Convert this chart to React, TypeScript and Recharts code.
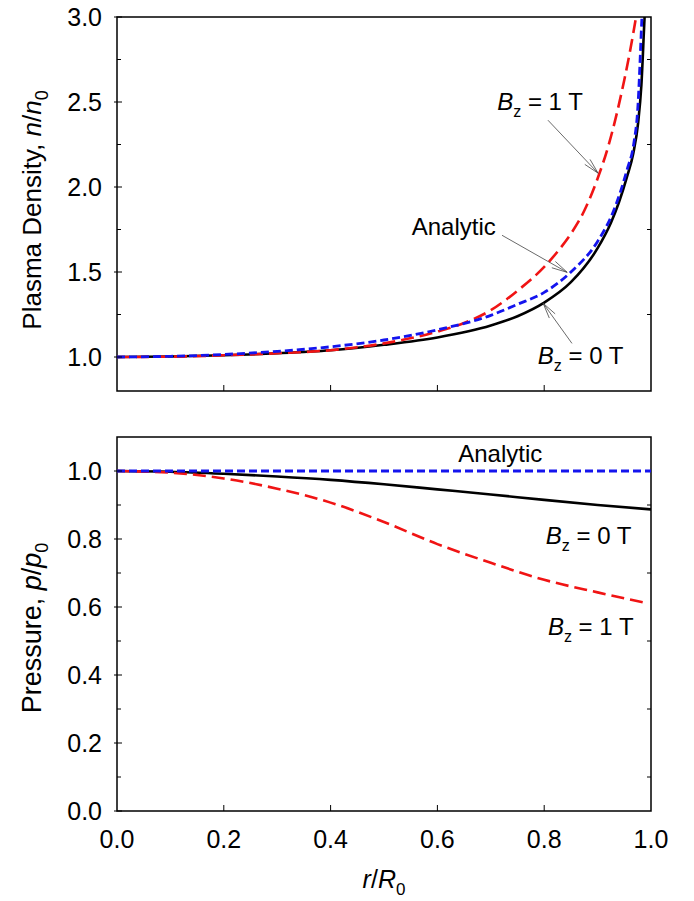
import React from 'react';
import {
  LineChart,
  Line,
  XAxis,
  YAxis,
  ReferenceArea,
  ReferenceLine,
  ReferenceDot,
} from 'recharts';

const FONT = '"Liberation Sans", Arial, Helvetica, sans-serif';
const RED = '#f01414';
const BLUE = '#1414ee';
const BLACK = '#000000';

// ---------- Top panel: plasma density n/n0 vs r/R0 ----------
const densBz0R = [0, 0.1, 0.2, 0.3, 0.4, 0.5, 0.6, 0.7, 0.75, 0.8, 0.85, 0.9, 0.925, 0.94, 0.955, 0.967, 0.976, 0.982, 0.988, 0.995];
const densBz0N = [1.0, 1.003, 1.01, 1.022, 1.04, 1.072, 1.115, 1.185, 1.24, 1.32, 1.44, 1.64, 1.79, 1.91, 2.06, 2.2, 2.38, 2.6, 3.0, 3.4];

const densAnaR = [0, 0.1, 0.2, 0.3, 0.4, 0.5, 0.6, 0.7, 0.75, 0.8, 0.85, 0.9, 0.93, 0.955, 0.968, 0.975, 0.983, 0.99];
const densAnaN = [1.0, 1.004, 1.015, 1.033, 1.06, 1.1, 1.16, 1.245, 1.31, 1.38, 1.5, 1.68, 1.86, 2.1, 2.26, 2.45, 3.0, 3.5];

const densBz1R = [0, 0.1, 0.2, 0.3, 0.4, 0.5, 0.6, 0.65, 0.7, 0.75, 0.8, 0.825, 0.85, 0.875, 0.9, 0.92, 0.935, 0.95, 0.962, 0.972, 0.985];
const densBz1N = [1.0, 1.002, 1.01, 1.022, 1.04, 1.08, 1.15, 1.2, 1.275, 1.39, 1.53, 1.62, 1.725, 1.86, 2.05, 2.24, 2.42, 2.63, 2.82, 3.0, 3.25];

// ---------- Bottom panel: pressure p/p0 vs r/R0 ----------
const presR = [0, 0.1, 0.2, 0.3, 0.4, 0.5, 0.6, 0.7, 0.8, 0.9, 1.0];
const presBz0 = [1.0, 0.998, 0.992, 0.984, 0.974, 0.961, 0.946, 0.931, 0.915, 0.9, 0.887];
const presBz1R = [0, 0.1, 0.2, 0.3, 0.4, 0.5, 0.6, 0.7, 0.8, 0.9, 0.99];
const presBz1 = [1.0, 0.995, 0.978, 0.948, 0.907, 0.85, 0.785, 0.73, 0.68, 0.643, 0.612];
const presAnaR = [0, 1.0];
const presAna = [1.0, 1.0];

// ---------- Axes ----------
const xTicks = [0, 0.2, 0.4, 0.6, 0.8, 1.0];
const densDomain = [0.8, 3.0];
const densTicks = [1.0, 1.25, 1.5, 1.75, 2.0, 2.25, 2.5, 2.75, 3.0];
const densMinorTicks = [1.25, 1.75, 2.25, 2.75];
const presDomain = [0, 1.1];
const presTicks = [0, 0.1, 0.2, 0.3, 0.4, 0.5, 0.6, 0.7, 0.8, 0.9, 1.0];
const presMinorTicks = [0.1, 0.3, 0.5, 0.7, 0.9];

const zip = (xs: number[], ys: number[]) => xs.map((x, i) => ({ r: x, v: ys[i] }));

const isMajor = (v: number, step: number) => Math.abs(v / step - Math.round(v / step)) < 1e-6;

const TICK_FS = 25;

const renderXTick = (showLabel: boolean) => (props: any) => {
  const { x, y, payload } = props;
  const v = payload.value as number;
  const inner = v > 1e-6 && v < 1 - 1e-6;
  return (
    <g key={`xt-${v}`}>
      {inner && <line x1={x} x2={x} y1={y} y2={y - 6} stroke="#000" strokeWidth={1} />}
      {showLabel && (
        <text x={x} y={y + 37} textAnchor="middle" fontSize={TICK_FS} fontFamily={FONT} fill="#000">
          {v.toFixed(1)}
        </text>
      )}
    </g>
  );
};

const renderYTickLeft = (step: number) => (props: any) => {
  const { x, y, payload } = props;
  const v = payload.value as number;
  const major = isMajor(v, step);
  return (
    <g key={`yl-${v}`}>
      {major ? (
        <line x1={x - 3} x2={x + 5} y1={y} y2={y} stroke="#000" strokeWidth={1} />
      ) : (
        <line x1={x} x2={x + 4} y1={y} y2={y} stroke="#000" strokeWidth={1} />
      )}
      {major && (
        <text x={x - 15} y={y} dy="0.36em" textAnchor="end" fontSize={TICK_FS} fontFamily={FONT} fill="#000">
          {v.toFixed(1)}
        </text>
      )}
    </g>
  );
};

const renderYTickRight = (props: any) => {
  const { x, y, payload } = props;
  return <line key={`yr-${payload.value}`} x1={x - 4} x2={x} y1={y} y2={y} stroke="#000" strokeWidth={1} />;
};

const Arrow = (props: any) => {
  const { x1, y1, x2, y2 } = props;
  const dx = x2 - x1;
  const dy = y2 - y1;
  const len = Math.sqrt(dx * dx + dy * dy) || 1;
  const ux = dx / len;
  const uy = dy / len;
  const hl = 16;
  const ang = (13 * Math.PI) / 180;
  const c = Math.cos(ang);
  const s = Math.sin(ang);
  const ax = x2 - hl * (ux * c - uy * s);
  const ay = y2 - hl * (uy * c + ux * s);
  const bx = x2 - hl * (ux * c + uy * s);
  const by = y2 - hl * (uy * c - ux * s);
  return (
    <g stroke="#444" strokeWidth={0.8} fill="none">
      <line x1={x1} y1={y1} x2={x2} y2={y2} />
      <line x1={ax} y1={ay} x2={x2} y2={y2} />
      <line x1={bx} y1={by} x2={x2} y2={y2} />
    </g>
  );
};

const BzText = (value: string) => (props: any) => {
  const { cx, cy } = props;
  return (
    <text x={cx} y={cy} fontSize={24} fontFamily={FONT} fill="#000" style={{ whiteSpace: 'pre' }}>
      <tspan fontStyle="italic">B</tspan>
      <tspan fontSize={16} dy={7}>z</tspan>
      <tspan dy={-7}>{` = ${value} T`}</tspan>
    </text>
  );
};

const PlainText = (value: string) => (props: any) => {
  const { cx, cy } = props;
  return (
    <text x={cx} y={cy} fontSize={24} fontFamily={FONT} fill="#000">
      {value}
    </text>
  );
};

const lineCommon = {
  type: 'monotone' as const,
  dataKey: 'v',
  dot: false,
  activeDot: false,
  isAnimationActive: false,
  strokeWidth: 2.6,
};

const axisCommon = {
  type: 'number' as const,
  interval: 0 as const,
  axisLine: false,
  tickLine: false,
  tickSize: 0,
  tickMargin: 0,
  allowDataOverflow: true,
};

export default function App() {
  return (
    <div style={{ position: 'absolute', left: 0, top: 0, width: 694, height: 901, background: '#fff' }}>
      {/* Top panel */}
      <div style={{ position: 'absolute', left: 0, top: 0 }}>
        <LineChart width={694} height={430} margin={{ top: 17, right: 42, bottom: 38, left: 116 }}>
          <XAxis {...axisCommon} dataKey="r" domain={[0, 1]} ticks={xTicks} height={1} tick={renderXTick(false)} />
          <YAxis {...axisCommon} yAxisId="left" domain={densDomain} ticks={densTicks} width={1} tick={renderYTickLeft(0.5)} />
          <YAxis
            {...axisCommon}
            yAxisId="right"
            orientation="right"
            domain={densDomain}
            ticks={densMinorTicks}
            width={1}
            tick={renderYTickRight}
          />
          <Line yAxisId="left" {...lineCommon} data={zip(densBz0R, densBz0N)} stroke={BLACK} />
          <Line yAxisId="left" {...lineCommon} data={zip(densBz1R, densBz1N)} stroke={RED} strokeDasharray="13 6" />
          <Line yAxisId="left" {...lineCommon} data={zip(densAnaR, densAnaN)} stroke={BLUE} strokeDasharray="8 4" strokeWidth={2.8} />
          <ReferenceArea yAxisId="left" x1={0} x2={1} y1={0.8} y2={3.0} fill="none" stroke="#000" strokeWidth={1.5} ifOverflow="visible" />
          <ReferenceLine yAxisId="left" segment={[{ x: 0.807, y: 2.393 }, { x: 0.901, y: 2.081 }]} shape={Arrow} ifOverflow="visible" />
          <ReferenceLine yAxisId="left" segment={[{ x: 0.721, y: 1.716 }, { x: 0.843, y: 1.498 }]} shape={Arrow} ifOverflow="visible" />
          <ReferenceLine yAxisId="left" segment={[{ x: 0.852, y: 1.08 }, { x: 0.798, y: 1.316 }]} shape={Arrow} ifOverflow="visible" />
          <ReferenceDot yAxisId="left" x={0.712} y={2.451} r={0} shape={BzText('1')} ifOverflow="visible" />
          <ReferenceDot yAxisId="left" x={0.552} y={1.716} r={0} shape={PlainText('Analytic')} ifOverflow="visible" />
          <ReferenceDot yAxisId="left" x={0.788} y={0.957} r={0} shape={BzText('0')} ifOverflow="visible" />
        </LineChart>
      </div>

      {/* Bottom panel */}
      <div style={{ position: 'absolute', left: 0, top: 430 }}>
        <LineChart width={694} height={471} margin={{ top: 7, right: 42, bottom: 89, left: 116 }}>
          <XAxis {...axisCommon} dataKey="r" domain={[0, 1]} ticks={xTicks} height={1} tick={renderXTick(true)} />
          <YAxis {...axisCommon} yAxisId="left" domain={presDomain} ticks={presTicks} width={1} tick={renderYTickLeft(0.2)} />
          <YAxis
            {...axisCommon}
            yAxisId="right"
            orientation="right"
            domain={presDomain}
            ticks={presMinorTicks}
            width={1}
            tick={renderYTickRight}
          />
          <Line yAxisId="left" {...lineCommon} data={zip(presR, presBz0)} stroke={BLACK} />
          <Line yAxisId="left" {...lineCommon} data={zip(presBz1R, presBz1)} stroke={RED} strokeDasharray="13 6" />
          <Line yAxisId="left" {...lineCommon} data={zip(presAnaR, presAna)} stroke={BLUE} strokeDasharray="8 4" strokeWidth={2.8} />
          <ReferenceArea yAxisId="left" x1={0} x2={1} y1={0} y2={1.1} fill="none" stroke="#000" strokeWidth={1.5} ifOverflow="visible" />
          <ReferenceDot yAxisId="left" x={0.639} y={1.026} r={0} shape={PlainText('Analytic')} ifOverflow="visible" />
          <ReferenceDot yAxisId="left" x={0.803} y={0.784} r={0} shape={BzText('0')} ifOverflow="visible" />
          <ReferenceDot yAxisId="left" x={0.807} y={0.518} r={0} shape={BzText('1')} ifOverflow="visible" />
        </LineChart>
      </div>

      {/* Axis titles */}
      <svg width={694} height={901} style={{ position: 'absolute', left: 0, top: 0, pointerEvents: 'none' }}>
        <text
          transform="translate(41,210) rotate(-90)"
          textAnchor="middle"
          fontSize={26}
          fontFamily={FONT}
          fill="#000"
          style={{ whiteSpace: 'pre' }}
        >
          <tspan>{'Plasma Density, '}</tspan>
          <tspan fontStyle="italic">n</tspan>
          <tspan>/</tspan>
          <tspan fontStyle="italic">n</tspan>
          <tspan fontSize={18} dy={7}>0</tspan>
        </text>
        <text
          transform="translate(41,628) rotate(-90)"
          textAnchor="middle"
          fontSize={27}
          fontFamily={FONT}
          fill="#000"
          style={{ whiteSpace: 'pre' }}
        >
          <tspan>{'Pressure, '}</tspan>
          <tspan fontStyle="italic">p</tspan>
          <tspan>/</tspan>
          <tspan fontStyle="italic">p</tspan>
          <tspan fontSize={18} dy={7}>0</tspan>
        </text>
        <text x={384} y={888} textAnchor="middle" fontSize={25} fontFamily={FONT} fill="#000">
          <tspan fontStyle="italic">r</tspan>
          <tspan>/</tspan>
          <tspan fontStyle="italic">R</tspan>
          <tspan fontSize={17} dy={7}>0</tspan>
        </text>
      </svg>
    </div>
  );
}
